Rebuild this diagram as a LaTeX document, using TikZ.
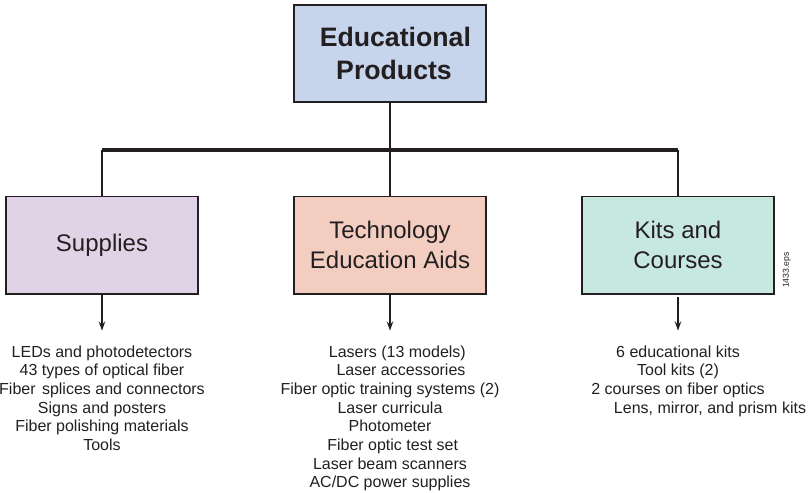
\documentclass[tikz,border=0pt]{standalone}
\usepackage{fontspec}
\setmainfont{Liberation Sans}
\usetikzlibrary{positioning, arrows.meta}
\definecolor{ink}{HTML}{231F20}
\definecolor{edublue}{HTML}{C6D4EC}
\definecolor{supplypink}{HTML}{E2D2E6}
\definecolor{aidsred}{HTML}{F3CDC0}
\definecolor{kitsgreen}{HTML}{C7E7E1}
\tikzstyle{topcell} = [rectangle, draw=ink, line width=1.6pt, fill=edublue, minimum width=144pt, minimum height=73pt, align=center, text=ink, font=\fontsize{20}{25}\selectfont\bfseries]
\tikzstyle{cell} = [rectangle, draw=ink, line width=0.8pt, minimum width=144pt, minimum height=73pt, align=center, text=ink, font=\fontsize{18}{22.5}\selectfont]
\tikzstyle{items} = [align=center, inner sep=0pt, text=ink, font=\fontsize{12}{14}\selectfont]
\tikzstyle{bus} = [draw=ink, line width=2.8pt]
\tikzstyle{trunk} = [draw=ink, line width=2.2pt]
\tikzstyle{branch} = [draw=ink, line width=0.8pt]
\tikzstyle{line} = [draw=ink, line width=0.8pt, -{Stealth[length=7pt, width=5pt, inset=2.5pt]}]

\begin{document}
\begin{tikzpicture}[node distance = 144pt]
    \useasboundingbox (0,0) rectangle (609pt,-369pt);

    \node[topcell] (edu) at (292.5pt,-40pt) {\hspace*{8pt}Educational\\\hspace*{6pt}Products};
    \node[cell, fill=aidsred, below of=edu] (aids) {Technology\\Education Aids};
    \node[cell, fill=supplypink, left of=aids, node distance=216pt] (supplies) {Supplies};
    \node[cell, fill=kitsgreen, right of=aids, node distance=216pt] (kits) {Kits and\\Courses};

    % tree lines
    \coordinate (hub) at ([yshift=-72.5pt]edu.center);
    \path[trunk] (edu) -- (hub);
    \path[bus] (supplies |- hub) -- (kits |- hub);
    \path[branch] (supplies |- hub) -- (supplies);
    \path[branch] (hub) -- (aids);
    \path[branch] (kits |- hub) -- (kits);

    % arrows to the lists
    \coordinate[below=27pt of supplies.south] (suppliesend);
    \coordinate[below=27pt of aids.south] (aidsend);
    \coordinate[below=27pt of kits.south] (kitsend);
    \path[line] (supplies) -- (suppliesend);
    \path[line] (aids) -- (aidsend);
    \path[line] ([yshift=-2pt]kits.south) -- (kitsend);

    \node[items, below=11pt of suppliesend] (supplylist) {LEDs and photodetectors\\43 types of optical fiber\\Fiber\hspace{0.12em} splices and connectors\\Signs and posters\\Fiber polishing materials\\Tools};
    \node[items, below=11pt of aidsend] (aidslist) {\hspace*{11pt}Lasers (13 models)\\\hspace*{16.5pt}Laser accessories\\Fiber optic training systems (2)\\Laser curricula\\Photometer\\\hspace*{4pt}Fiber optic test set\\Laser beam scanners\\AC/DC power supplies};
    \node[items, below=11pt of kitsend] (kitslist) {6 educational kits\\Tool kits (2)\\2 courses on fiber optics\\\hspace*{48pt}Lens, mirror, and prism kits};

    \node[inner sep=0pt, rotate=90, text=ink, font=\fontsize{6.5}{7}\selectfont] (tag) at (590pt,-202.5pt) {1433.eps};
\end{tikzpicture}
\end{document}
